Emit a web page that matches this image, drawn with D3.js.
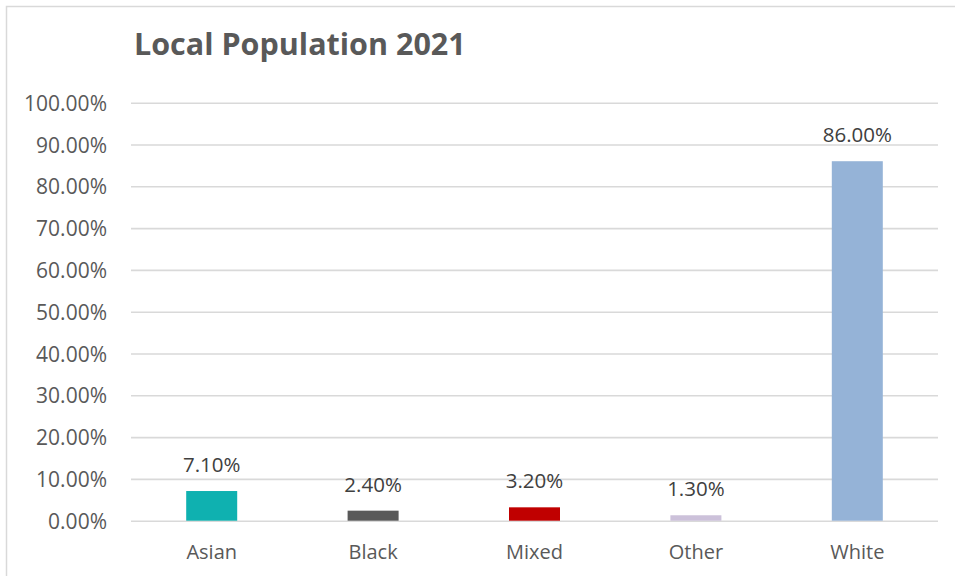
<!DOCTYPE html>
<html>
<head>
<meta charset="utf-8">
<script src="https://cdn.jsdelivr.net/npm/d3@7"></script>
<style>
  html, body { margin: 0; padding: 0; background: #fff; }
  svg { display: block; font-family: "Open Sans", "Noto Sans", sans-serif; }
</style>
</head>
<body>
<svg id="chart" width="955" height="576"></svg>
<script>
// Population share by ethnic group, 2021 (percent)
const categories = ["Asian", "Black", "Mixed", "Other", "White"];
const shares = [7.1, 2.4, 3.2, 1.3, 86.0];
const barColors = ["#0fb1b0", "#595959", "#c00000", "#ccc1da", "#95b3d7"];
const tickValues = [0, 10, 20, 30, 40, 50, 60, 70, 80, 90, 100];
const titleText = "Local Population 2021";

const svg = d3.select("#chart");
const W = 955, H = 576;
const plot = { left: 131, right: 938, top: 102.7, bottom: 520.7 };

// Chart frame
svg.append("rect")
  .attr("x", 6.5).attr("y", 6.5)
  .attr("width", W + 20).attr("height", H + 20)
  .attr("fill", "#fff")
  .attr("stroke", "#d9d9d9").attr("stroke-width", 1.5);

const x = d3.scaleBand()
  .domain(categories)
  .range([plot.left, plot.right])
  .paddingInner(0.684)
  .paddingOuter(0.342);

const y = d3.scaleLinear()
  .domain([0, 100])
  .range([plot.bottom, plot.top]);

// Title
svg.append("text")
  .attr("x", 134).attr("y", 55)
  .attr("font-size", 30.5).attr("font-weight", 700)
  .attr("fill", "#595959")
  .text(titleText);

// Y axis: gridlines and percentage labels
const yAxis = d3.axisLeft(y)
  .tickValues(tickValues)
  .tickSize(-(plot.right - plot.left))
  .tickPadding(24)
  .tickFormat(d => d.toFixed(2) + "%");

const gy = svg.append("g")
  .attr("transform", `translate(${plot.left},0)`)
  .call(yAxis);
gy.select(".domain").remove();
gy.selectAll(".tick line")
  .attr("stroke", "#d9d9d9").attr("stroke-width", 1.6);
gy.selectAll(".tick text")
  .attr("font-size", 21).attr("fill", "#595959")
  .attr("font-family", "'Open Sans', 'Noto Sans', sans-serif")
  .attr("dy", "0.36em");

// Bars
svg.append("g").selectAll("rect")
  .data(categories)
  .join("rect")
  .attr("x", d => x(d))
  .attr("width", x.bandwidth())
  .attr("y", (d, i) => y(shares[i]))
  .attr("height", (d, i) => y(0) - y(shares[i]))
  .attr("fill", (d, i) => barColors[i]);

// Value labels
svg.append("g").selectAll("text")
  .data(categories)
  .join("text")
  .attr("x", d => x(d) + x.bandwidth() / 2)
  .attr("y", (d, i) => y(shares[i]) - 19)
  .attr("text-anchor", "middle")
  .attr("font-size", 20.5).attr("fill", "#404040")
  .text((d, i) => shares[i].toFixed(2) + "%");

// X axis category labels
const xAxis = d3.axisBottom(x).tickSize(0).tickPadding(0);
const gx = svg.append("g")
  .attr("transform", `translate(0,${plot.bottom})`)
  .call(xAxis);
gx.select(".domain").remove();
gx.selectAll(".tick text")
  .attr("font-size", 20).attr("fill", "#595959")
  .attr("font-family", "'Open Sans', 'Noto Sans', sans-serif")
  .attr("dy", null)
  .attr("y", 38.5);
</script>
</body>
</html>
